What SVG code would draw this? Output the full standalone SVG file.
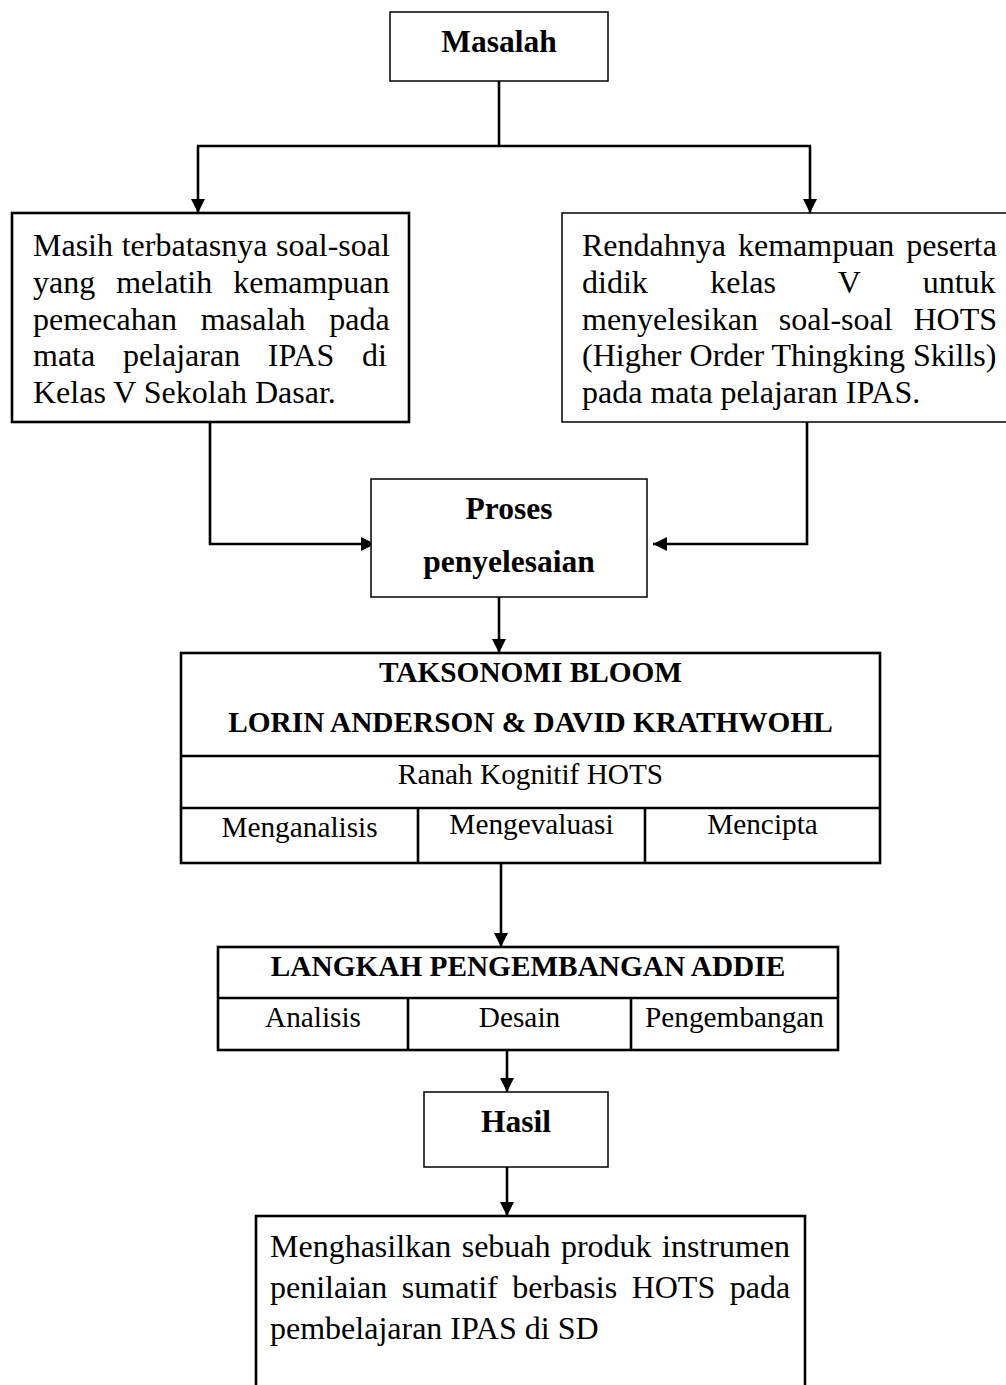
<svg xmlns="http://www.w3.org/2000/svg" width="1006" height="1385" viewBox="0 0 1006 1385">
<defs>
<style>
text{font-family:"Liberation Serif","Times New Roman",serif;fill:#000}
.b{font-weight:bold;font-size:31.5px;text-anchor:middle}
.h{font-weight:bold;font-size:29.3px;text-anchor:middle}
.c{font-size:29.3px;text-anchor:middle}
.t{font-size:32px}
.thin{fill:#fff;stroke:#000;stroke-width:1.5}
.thick{fill:#fff;stroke:#000;stroke-width:2.6}
.ln{fill:none;stroke:#000;stroke-width:2.6}
.cn{fill:none;stroke:#000;stroke-width:2.6}
</style>
<marker id="ah" markerUnits="userSpaceOnUse" markerWidth="16" markerHeight="16" refX="14" refY="7" orient="auto">
<path d="M0,0 L14,7 L0,14 Z" fill="#000"/>
</marker>
</defs>
<rect width="1006" height="1385" fill="#fff"/>

<g id="connectors">
<path class="cn" d="M499,81 V146"/>
<path class="cn" d="M197,146 H811"/>
<path class="cn" d="M198,146 V213" marker-end="url(#ah)"/>
<path class="cn" d="M810,146 V213" marker-end="url(#ah)"/>
<path class="cn" d="M210,422 V544 H375" marker-end="url(#ah)"/>
<path class="cn" d="M807,422 V544 H653" marker-end="url(#ah)"/>
<path class="cn" d="M499,597 V653" marker-end="url(#ah)"/>
<path class="cn" d="M501,863 V947" marker-end="url(#ah)"/>
<path class="cn" d="M507,1050 V1092" marker-end="url(#ah)"/>
<path class="cn" d="M507,1167 V1216" marker-end="url(#ah)"/>
</g>

<g id="masalah">
<rect class="thin" x="390" y="12" width="218" height="69"/>
<text class="b" x="499" y="52">Masalah</text>
</g>

<g id="masalah-kiri">
<rect class="thick" x="12" y="213" width="397" height="209"/>
<text class="t" x="33" y="256" word-spacing="0.7">Masih terbatasnya soal-soal</text>
<text class="t" x="33" y="293" word-spacing="13">yang melatih kemampuan</text>
<text class="t" x="33" y="330" word-spacing="15.8">pemecahan masalah pada</text>
<text class="t" x="33" y="366" word-spacing="19.7">mata pelajaran IPAS di</text>
<text class="t" x="33" y="403">Kelas V Sekolah Dasar.</text>
</g>

<g id="masalah-kanan">
<rect class="thin" x="562" y="213" width="450" height="209"/>
<text class="t" x="582" y="256" word-spacing="4">Rendahnya kemampuan peserta</text>
<text class="t" x="582" y="293" word-spacing="54.4">didik kelas V untuk</text>
<text class="t" x="582" y="330" word-spacing="12.9">menyelesikan soal-soal HOTS</text>
<text class="t" x="582" y="366">(Higher Order Thingking Skills)</text>
<text class="t" x="582" y="403">pada mata pelajaran IPAS.</text>
</g>

<g id="proses">
<rect class="thin" x="371" y="479" width="276" height="118"/>
<text class="b" x="509" y="519">Proses</text>
<text class="b" x="509" y="572">penyelesaian</text>
</g>

<g id="taksonomi">
<rect class="thick" x="181" y="653" width="699" height="210"/>
<path class="ln" d="M181,756 H880 M181,808 H880 M418,808 V863 M645,808 V863"/>
<text class="h" x="530.5" y="682">TAKSONOMI BLOOM</text>
<text class="h" x="530.5" y="732">LORIN ANDERSON &amp; DAVID KRATHWOHL</text>
<text class="c" x="530.5" y="784">Ranah Kognitif HOTS</text>
<text class="c" x="299.5" y="837">Menganalisis</text>
<text class="c" x="531.5" y="834">Mengevaluasi</text>
<text class="c" x="762.5" y="834">Mencipta</text>
</g>

<g id="addie">
<rect class="thick" x="218" y="947" width="620" height="103"/>
<path class="ln" d="M218,998 H838 M408,998 V1050 M631,998 V1050"/>
<text class="h" x="528" y="976">LANGKAH PENGEMBANGAN ADDIE</text>
<text class="c" x="313" y="1027">Analisis</text>
<text class="c" x="519.5" y="1027">Desain</text>
<text class="c" x="734.5" y="1027">Pengembangan</text>
</g>

<g id="hasil">
<rect class="thin" x="424" y="1092" width="184" height="75"/>
<text class="b" x="516" y="1132">Hasil</text>
</g>

<g id="produk">
<rect class="thick" x="256" y="1216" width="549" height="190"/>
<text class="t" x="270" y="1257" word-spacing="2.4">Menghasilkan sebuah produk instrumen</text>
<text class="t" x="270" y="1298" word-spacing="6.5">penilaian sumatif berbasis HOTS pada</text>
<text class="t" x="270" y="1339">pembelajaran IPAS di SD</text>
</g>
</svg>
